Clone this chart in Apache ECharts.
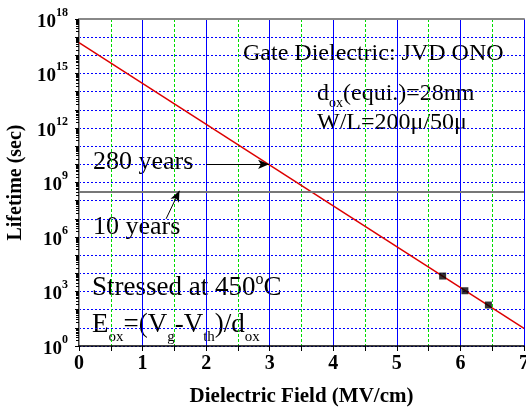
<!DOCTYPE html>
<html>
<head>
<meta charset="utf-8">
<script src="https://cdn.jsdelivr.net/npm/echarts@6/dist/echarts.min.js"></script>
<style>
html, body { margin: 0; padding: 0; background: #fff; }
#chart { width: 526px; height: 408px; }
</style>
</head>
<body>
<div id="chart"></div>
<script>
// measured points (MV/cm, sec)
const fieldMeasured = [5.72, 6.07, 6.44];
const lifetimeMeasured = [7100, 1100, 180];
// extrapolated fit line
const fieldFit = [0, 7];
const lifetimeFit = [5.0e16, 9.3];
// reference levels
const tenYears = 3.15e8;
const arrow280 = [[2.0, 1e10], [2.99, 1e10]];
const arrow10 = [[1.37, 1e7], [1.58, 3.5e8]];

const serif = '"Liberation Serif", "Times New Roman", serif';

let chartDom = document.getElementById('chart');
let myChart = echarts.init(chartDom);

function pairs(xs, ys) {
    return xs.map((x, i) => [x, ys[i]]);
}

let option = {
    animation: false,
    grid: { left: 79, right: 2, top: 19, bottom: 62, containLabel: false, outerBoundsMode: 'none' },
    xAxis: [{
        type: 'value',
        min: 0,
        max: 7,
        interval: 1,
        name: 'Dielectric Field (MV/cm)',
        nameLocation: 'middle',
        nameGap: 40,
        nameTextStyle: { fontFamily: serif, fontWeight: 'bold', fontSize: 21, color: '#000' },
        axisLine: { onZero: false, lineStyle: { color: '#000', width: 1.5 } },
        axisTick: { length: 5, lineStyle: { color: '#000' } },
        minorTick: { show: true, splitNumber: 2, length: 5, lineStyle: { color: '#000' } },
        axisLabel: { fontFamily: serif, fontWeight: 'bold', fontSize: 20, color: '#000', margin: 8 },
        splitLine: { show: true, lineStyle: { color: '#0000ff', width: 1 } },
        minorSplitLine: { show: true, lineStyle: { color: '#00dd00', width: 1, type: [3, 2] } }
    }, {
        type: 'value',
        min: 0,
        max: 7,
        position: 'top',
        axisLine: { onZero: false, lineStyle: { color: '#888', width: 2 } },
        axisTick: { show: false },
        axisLabel: { show: false },
        splitLine: { show: false }
    }],
    yAxis: [{
        type: 'log',
        logBase: 10,
        min: 1,
        max: 1e18,
        interval: 1,
        name: 'Lifetime (sec)',
        nameLocation: 'middle',
        nameGap: 48,
        nameTextStyle: { fontFamily: serif, fontWeight: 'bold', fontSize: 20, color: '#000' },
        axisLine: { lineStyle: { color: '#000', width: 1.5 } },
        axisTick: { length: 4, lineStyle: { color: '#000' } },
        minorTick: { show: true, splitNumber: 9, length: 3, lineStyle: { color: '#000' } },
        axisLabel: {
            margin: 11,
            formatter: function (v) {
                let e = Math.round(Math.log10(v));
                if (e % 3 !== 0) return '';
                return '{b|10}{s|' + e + '}';
            },
            rich: {
                b: { fontFamily: serif, fontWeight: 'bold', fontSize: 19, color: '#000', padding: [6, 0, 0, 0] },
                s: { fontFamily: serif, fontWeight: 'bold', fontSize: 12, color: '#000', padding: [0, 0, 13, 0] }
            }
        },
        splitLine: { show: true, lineStyle: { color: '#0000ff', width: 1, type: [2, 2] } }
    }, {
        type: 'log',
        logBase: 10,
        min: 1,
        max: 1e18,
        position: 'right',
        axisLine: { show: true, lineStyle: { color: '#999', width: 1 } },
        axisTick: { show: false },
        axisLabel: { show: false },
        splitLine: { show: false }
    }],
    series: [{
        type: 'line',
        data: pairs(fieldFit, lifetimeFit),
        symbol: 'none',
        lineStyle: { color: '#dd0000', width: 1.5 },
        silent: true,
        z: 4,
        markLine: {
            silent: true,
            animation: false,
            symbol: 'none',
            label: { show: false },
            lineStyle: { color: '#000', width: 1, type: 'solid' },
            data: [
                { yAxis: tenYears, lineStyle: { color: '#777', width: 2, type: 'solid' } },
                [{ coord: arrow280[0], symbol: 'none' }, { coord: arrow280[1], symbol: 'arrow', symbolSize: [7, 11] }],
                [{ coord: arrow10[0], symbol: 'none' }, { coord: arrow10[1], symbol: 'arrow', symbolSize: [7, 11] }]
            ]
        }
    }, {
        type: 'scatter',
        data: pairs(fieldMeasured, lifetimeMeasured),
        symbol: 'rect',
        symbolSize: 7,
        itemStyle: { color: '#000' },
        z: 5
    }],
    graphic: [
        { type: 'text', x: 243, y: 54, style: { text: 'Gate Dielectric: JVD ONO', font: '24px ' + serif, fill: '#000', verticalAlign: 'middle' } },
        { type: 'text', x: 317, y: 94, style: {
            text: '{m|d}{d|ox}{m|(equi.)=28nm}', verticalAlign: 'middle',
            rich: {
                m: { fontFamily: serif, fontSize: 24, fill: '#000' },
                d: { fontFamily: serif, fontSize: 14, fill: '#000', padding: [19, 0, 0, 0] }
            }
        } },
        { type: 'text', x: 317, y: 123, style: { text: 'W/L=200\u03bc/50\u03bc', font: '24px ' + serif, fill: '#000', verticalAlign: 'middle' } },
        { type: 'text', x: 93, y: 162, style: { text: '280 years', font: '26px ' + serif, fill: '#000', verticalAlign: 'middle' } },
        { type: 'text', x: 93, y: 227, style: { text: '10 years', font: '26px ' + serif, fill: '#000', verticalAlign: 'middle' } },
        { type: 'text', x: 92, y: 288, style: {
            text: '{m|Stressed at 450}{u|o}{m|C}', verticalAlign: 'middle',
            rich: {
                m: { fontFamily: serif, fontSize: 27, fill: '#000' },
                u: { fontFamily: serif, fontSize: 16, fill: '#000', padding: [0, 0, 16, 0] }
            }
        } },
        { type: 'text', x: 92, y: 325, style: {
            text: '{m|E}{d|ox}{m|=(V}{d|g}{m|-V}{d|th}{m|)/d}{d|ox}', verticalAlign: 'middle',
            rich: {
                m: { fontFamily: serif, fontSize: 27, fill: '#000' },
                d: { fontFamily: serif, fontSize: 15, fill: '#000', padding: [24, 0, 0, 0] }
            }
        } }
    ]
};
option && myChart.setOption(option);
</script>
</body>
</html>
